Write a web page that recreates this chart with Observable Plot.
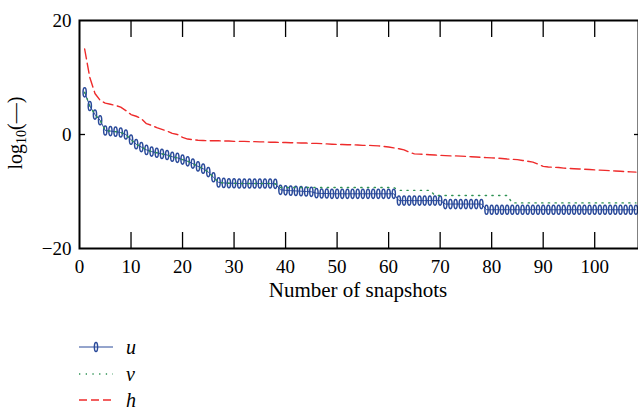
<!DOCTYPE html>
<html><head><meta charset="utf-8">
<script src="https://cdn.jsdelivr.net/npm/d3@7"></script>
<script src="https://cdn.jsdelivr.net/npm/@observablehq/plot@0.6"></script>
<style>
body{margin:0;background:#fff;font-family:"Liberation Serif","Times New Roman",serif;}
#chart svg{display:block}
#chart svg text{font-family:"Liberation Serif","Times New Roman",serif !important}
.legend{padding-left:79px;padding-top:24px}
.row{display:flex;align-items:center;height:26.5px}
.row svg{display:block}
.row span{font-style:italic;font-size:20px;margin-left:12px;line-height:1;font-family:"Liberation Serif",serif}
</style></head><body><div id="chart"></div><div class="legend" id="legend"></div>
<script>
const snapshots = d3.range(1, 109);
const u = [7.4,5.0,3.5,2.5,0.7,0.6,0.5,0.35,0.0,-0.9,
 -1.7,-2.2,-2.7,-3.0,-3.2,-3.4,-3.6,-3.9,-4.1,-4.4,
 -4.7,-5.1,-5.6,-6.0,-6.6,-7.5,-8.4,-8.5,-8.55,-8.55,
 -8.6,-8.6,-8.6,-8.6,-8.6,-8.6,-8.6,-8.65,-9.7,-9.8,
 -9.85,-9.9,-9.95,-10.0,-10.05,-10.3,-10.35,-10.35,-10.4,-10.4,
 -10.4,-10.4,-10.4,-10.4,-10.4,-10.4,-10.4,-10.4,-10.4,-10.4,
 -10.4,-11.6,-11.6,-11.6,-11.6,-11.6,-11.6,-11.6,-11.6,-11.6,
 -12.2,-12.2,-12.2,-12.2,-12.2,-12.2,-12.2,-12.2,-13.2,-13.2,
 -13.2,-13.2,-13.2,-13.2,-13.2,-13.2,-13.2,-13.2,-13.2,-13.2,
 -13.2,-13.2,-13.2,-13.2,-13.2,-13.2,-13.2,-13.2,-13.2,-13.2,
 -13.2,-13.2,-13.2,-13.2,-13.2,-13.2,-13.2,-13.2];
const v = [7.4,5.0,3.5,2.5,0.7,0.6,0.5,0.35,0.0,-0.9,
 -1.7,-2.2,-2.7,-3.0,-3.2,-3.4,-3.6,-3.9,-4.1,-4.4,
 -4.7,-5.1,-5.6,-6.0,-6.6,-7.5,-8.4,-8.5,-8.55,-8.55,
 -8.6,-8.6,-8.6,-8.6,-8.6,-8.6,-8.6,-8.65,-9.3,-9.3,
 -9.3,-9.3,-9.3,-9.3,-9.3,-9.3,-9.3,-9.3,-9.3,-9.3,
 -9.3,-9.3,-9.3,-9.3,-9.3,-9.3,-9.3,-9.3,-9.3,-9.3,
 -9.3,-9.8,-9.8,-9.8,-9.8,-9.8,-9.8,-9.8,-10.7,-10.7,
 -10.7,-10.7,-10.7,-10.7,-10.7,-10.7,-10.7,-10.7,-10.7,-10.7,
 -10.7,-10.7,-10.7,-12.0,-12.0,-12.0,-12.0,-12.0,-12.0,-12.0,
 -12.0,-12.0,-12.0,-12.0,-12.0,-12.0,-12.0,-12.0,-12.0,-12.0,
 -12.0,-12.0,-12.0,-12.0,-12.0,-12.0,-12.0,-12.0];
const h = [15.0,10.0,7.2,6.0,5.5,5.3,5.1,4.8,4.2,3.5,
 3.2,2.8,1.9,1.6,1.2,0.9,0.6,0.2,0.0,-0.5,
 -0.8,-0.9,-1.0,-1.05,-1.1,-1.1,-1.1,-1.15,-1.15,-1.2,
 -1.2,-1.2,-1.25,-1.25,-1.3,-1.3,-1.35,-1.35,-1.4,-1.4,
 -1.45,-1.45,-1.5,-1.5,-1.55,-1.55,-1.6,-1.65,-1.7,-1.75,
 -1.75,-1.8,-1.8,-1.85,-1.9,-1.9,-1.95,-2.0,-2.1,-2.2,
 -2.35,-2.5,-2.7,-3.1,-3.4,-3.45,-3.5,-3.55,-3.6,-3.65,
 -3.7,-3.75,-3.75,-3.8,-3.85,-3.9,-3.95,-4.0,-4.05,-4.1,
 -4.15,-4.2,-4.3,-4.35,-4.4,-4.55,-4.7,-4.85,-5.2,-5.6,
 -5.7,-5.75,-5.8,-5.9,-5.95,-6.0,-6.05,-6.1,-6.15,-6.2,
 -6.25,-6.3,-6.35,-6.4,-6.45,-6.5,-6.55,-6.6];
const xTickMarks = [10,20,30,40,50,60,70,80,90,100];
const xTickLabels = [0,10,20,30,40,50,60,70,80,90,100];
const yTickLabels = [-20,0,20];
const seriesNames = ["u","v","h"];

const blue = "#2a4a9a", green = "#2e9254", red = "#ee2b2b";
const SERIF = "'Liberation Serif', 'Times New Roman', serif";

const rows = snapshots.map((s, i) => ({s, u: u[i], v: v[i], h: h[i]}));

const ellipse = {
  draw(ctx) {
    const rx = 1.6, ry = 4.6, k = 0.5523;
    ctx.moveTo(rx, 0);
    ctx.bezierCurveTo(rx, ry * k, rx * k, ry, 0, ry);
    ctx.bezierCurveTo(-rx * k, ry, -rx, ry * k, -rx, 0);
    ctx.bezierCurveTo(-rx, -ry * k, -rx * k, -ry, 0, -ry);
    ctx.bezierCurveTo(rx * k, -ry, rx, -ry * k, rx, 0);
    ctx.closePath();
  }
};

const chart = Plot.plot({
  width: 638, height: 310,
  marginLeft: 79, marginRight: 0, marginTop: 20, marginBottom: 62,
  style: {fontFamily: SERIF, fontSize: "19px", color: "#000", background: "#fff", overflow: "visible"},
  x: {domain: [0, 108.5]},
  y: {domain: [-20, 20]},
  marks: [
    Plot.lineY(rows, {x: "s", y: "h", stroke: red, strokeWidth: 1.4, strokeDasharray: "10,4.5"}),
    Plot.lineY(rows, {x: "s", y: "u", stroke: blue, strokeWidth: 1}),
    Plot.dot(rows, {x: "s", y: "u", symbol: ellipse, stroke: blue, strokeWidth: 1.5, fill: "none"}),
    Plot.lineY(rows, {x: "s", y: "v", stroke: green, strokeWidth: 1.4, strokeDasharray: "1.3,5.4"}),
    Plot.axisX({anchor: "top", ticks: xTickMarks, tickSize: -16, tickFormat: () => "", label: null, strokeWidth: 1.3}),
    Plot.axisX({anchor: "bottom", ticks: xTickMarks, tickSize: -16, tickFormat: () => "", label: null, strokeWidth: 1.3}),
    Plot.axisX({anchor: "bottom", ticks: xTickLabels, tickSize: 0, tickPadding: 11, label: null, fontFamily: SERIF}),
    Plot.axisY({anchor: "left", ticks: [0], tickSize: -6, tickFormat: () => "", label: null, strokeWidth: 1.3}),
    Plot.axisY({anchor: "right", ticks: [0], tickSize: -5, tickFormat: () => "", label: null, strokeWidth: 1.3}),
    Plot.axisY({anchor: "left", ticks: yTickLabels, tickSize: 0, tickPadding: 8, label: null, fontFamily: SERIF}),
    Plot.frame({stroke: "#000", strokeWidth: 2})
  ]
});

const svg = d3.select(chart);
svg.append("text")
  .attr("x", 358).attr("y", 297)
  .attr("text-anchor", "middle")
  .attr("font-size", 21)
  .attr("font-family", SERIF)
  .attr("fill", "#000")
  .text("Number of snapshots");
const yl = svg.append("text")
  .attr("transform", "translate(22,133) rotate(-90)")
  .attr("text-anchor", "middle")
  .attr("font-size", 20)
  .attr("font-family", SERIF)
  .attr("fill", "#000");
yl.append("tspan").text("log");
yl.append("tspan").attr("font-size", 14).attr("dy", 4).text("10");
yl.append("tspan").attr("dy", -4).text("(—)");

document.getElementById("chart").appendChild(chart);

// legend
const legend = d3.select("#legend");
const styles = {
  u: {stroke: blue, dash: null, marker: true},
  v: {stroke: green, dash: "1.3,5.4", marker: false},
  h: {stroke: red, dash: "8,4", marker: false}
};
seriesNames.forEach(name => {
  const st = styles[name];
  const row = legend.append("div").attr("class", "row");
  const sw = row.append("svg").attr("width", 35).attr("height", 14);
  sw.append("line").attr("x1", 0).attr("x2", 34).attr("y1", 7).attr("y2", 7)
    .attr("stroke", st.stroke).attr("stroke-width", name === "u" ? 1 : 1.4)
    .attr("stroke-dasharray", st.dash);
  if (st.marker) {
    sw.append("path").attr("transform", "translate(17,7)")
      .attr("d", d3.symbol(ellipse)()).attr("fill", "none")
      .attr("stroke", st.stroke).attr("stroke-width", 1.5);
  }
  row.append("span").text(name);
});
</script></body></html>
